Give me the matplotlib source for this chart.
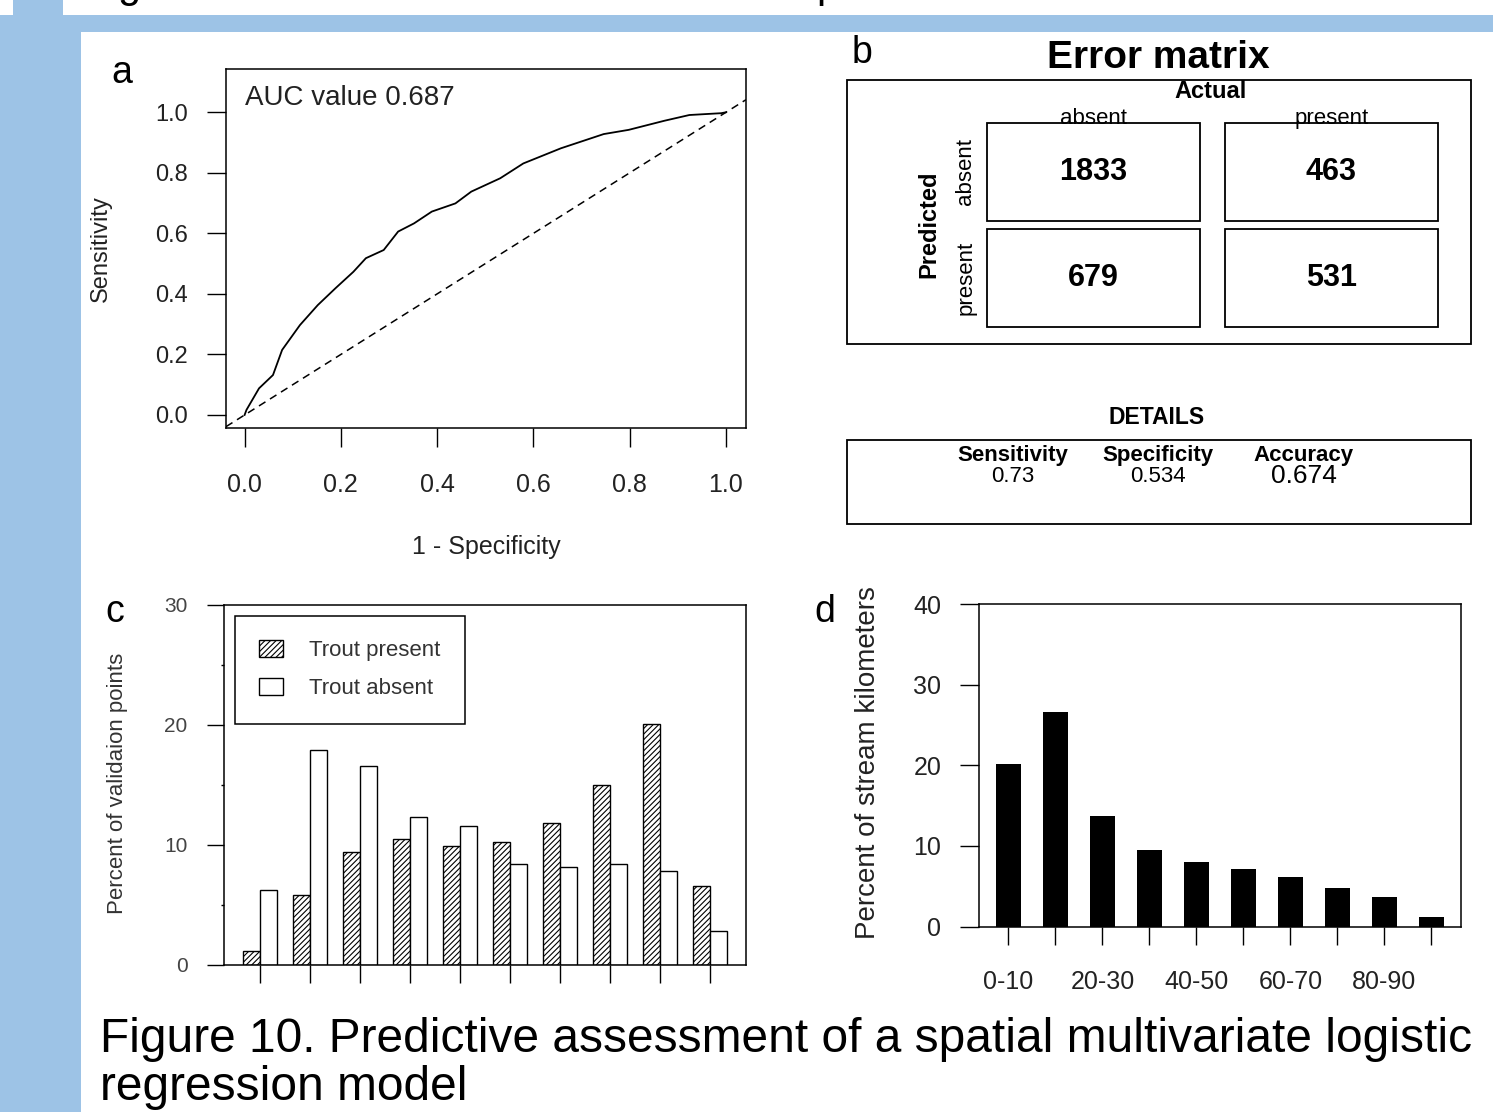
import matplotlib
matplotlib.use("Agg")
import matplotlib.pyplot as plt
from matplotlib.patches import Rectangle

plt.rcParams['font.family'] = ['Liberation Sans', 'DejaVu Sans']
plt.rcParams['hatch.linewidth'] = 0.8

# ---- data ----
# panel a: ROC curve
fpr = [0.0, 0.004, 0.030, 0.059, 0.078, 0.115, 0.152, 0.189, 0.226, 0.252, 0.289, 0.319,
       0.352, 0.389, 0.438, 0.471, 0.531, 0.579, 0.657, 0.746, 0.798, 0.872, 0.924, 0.990, 1.0]
tpr = [0.0, 0.017, 0.088, 0.132, 0.215, 0.297, 0.363, 0.419, 0.473, 0.518, 0.545, 0.606,
       0.633, 0.672, 0.699, 0.738, 0.782, 0.831, 0.881, 0.928, 0.942, 0.972, 0.991, 0.997, 1.0]
auc_value = 0.687

# panel b: error matrix
class_labels = ['absent', 'present']
err_matrix = [[1833, 463],
              [679, 531]]
detail_names = ['Sensitivity', 'Specificity', 'Accuracy']
detail_values = [0.73, 0.534, 0.674]

# panel c: validation points
trout_present = [1.2, 5.8, 9.45, 10.5, 9.9, 10.2, 11.8, 15.0, 20.1, 6.6]
trout_absent = [6.25, 17.9, 16.6, 12.35, 11.6, 8.4, 8.15, 8.4, 7.8, 2.8]

# panel d: stream kilometers
prob_classes = ['0-10', '10-20', '20-30', '30-40', '40-50', '50-60', '60-70', '70-80', '80-90', '90-100']
stream_km = [20.2, 26.6, 13.7, 9.44, 7.95, 7.08, 6.09, 4.76, 3.64, 1.12]

W, H = 1493, 1112
BLUE = '#9DC3E6'

fig = plt.figure(figsize=(W / 100, H / 100), dpi=100, facecolor=BLUE)


def box(x0, y0, x1, y1):
    return [x0 / W, 1 - y1 / H, (x1 - x0) / W, (y1 - y0) / H]


# background layer in pixel coordinates
bg = fig.add_axes([0, 0, 1, 1], zorder=0)
bg.set_xlim(0, W)
bg.set_ylim(H, 0)
bg.axis('off')
for (x, y, w, h) in [(0, 0, 13, 15), (63, 0, W - 63, 15), (80.5, 32, W - 80.5, H - 32)]:
    bg.add_patch(Rectangle((x, y), w, h, facecolor='white', edgecolor='none'))

# cut-off text from the slide above
bg.text(117, -3, 'g', fontsize=30, va='baseline', ha='left')
bg.text(816, -3, 'p', fontsize=30, va='baseline', ha='left')

for lab, (x, y) in zip('abcd', [(122, 73), (862, 53), (115, 612), (825, 612)]):
    bg.text(x, y, lab, fontsize=27, ha='center', va='center')

# ---- panel a ----
ax_a = fig.add_axes(box(226, 69, 746, 428), zorder=2)
ax_a.plot(fpr, tpr, color='black', lw=1.3)
ax_a.axline((0, 0), slope=1, color='black', lw=1.1, linestyle=(0, (5, 3.5)))
ax_a.set_xlim(-0.0386, 1.0416)
ax_a.set_ylim(-0.043, 1.143)
ticks_a = [0.0, 0.2, 0.4, 0.6, 0.8, 1.0]
ax_a.set_xticks(ticks_a, [f'{t:.1f}' for t in ticks_a])
ax_a.set_yticks(ticks_a, [f'{t:.1f}' for t in ticks_a])
ax_a.tick_params(axis='x', direction='out', length=13.5, width=1.0, pad=19, labelsize=18, labelcolor='#222222')
ax_a.tick_params(axis='y', direction='out', length=13.5, width=1.0, pad=14, labelsize=17, labelcolor='#222222')
for s in ax_a.spines.values():
    s.set_linewidth(1.1)
ax_a.text(0.0365, 0.919, f'AUC value {auc_value}', transform=ax_a.transAxes,
          fontsize=20, va='center', ha='left', color='#222222')
ax_a.set_xlabel('1 - Specificity', fontsize=18, color='#222222')
ax_a.xaxis.set_label_coords(0.5, (428 - 546.7) / 359)
ax_a.xaxis.label.set_va('center')
ax_a.set_ylabel('Sensitivity', fontsize=17, color='#222222')
ax_a.yaxis.set_label_coords((101 - 226) / 520, 0.5)
ax_a.yaxis.label.set_va('center')

# ---- panel b: error matrix ----
bg.text(1158, 58, 'Error matrix', fontsize=28, fontweight='bold', ha='center', va='center')
bg.add_patch(Rectangle((847, 80), 624, 264, fill=False, edgecolor='black', lw=1.3))
bg.text(1211, 91, 'Actual', fontsize=17, fontweight='bold', ha='center', va='center')
col_x = [(987, 1200), (1225, 1437.5)]
row_y = [(122.7, 220.7), (229, 326.7)]
for j, lab in enumerate(class_labels):
    cx = (col_x[j][0] + col_x[j][1]) / 2
    bg.text(cx, 124, lab, fontsize=16, ha='center', va='baseline')
bg.text(929, 224, 'Predicted', fontsize=17, fontweight='bold', rotation=90, ha='center', va='center')
for i, lab in enumerate(class_labels):
    cy = (row_y[i][0] + row_y[i][1]) / 2
    bg.text(966, cy, lab, fontsize=16, rotation=90, ha='center', va='center')
for i in range(2):
    for j in range(2):
        x0, x1 = col_x[j]
        y0, y1 = row_y[i]
        bg.add_patch(Rectangle((x0, y0), x1 - x0, y1 - y0, fill=False, edgecolor='black', lw=1.3))
        bg.text((x0 + x1) / 2, (y0 + y1) / 2, str(err_matrix[i][j]), fontsize=22,
                fontweight='bold', ha='center', va='center')

bg.text(1157, 417, 'DETAILS', fontsize=16.5, fontweight='bold', ha='center', va='center')
bg.add_patch(Rectangle((847, 440), 624, 84, fill=False, edgecolor='black', lw=1.3))
for name, val, x, fs in zip(detail_names, detail_values, [1013, 1158, 1304], [16, 16, 19]):
    bg.text(x, 455, name, fontsize=16, fontweight='bold', ha='center', va='center')
    bg.text(x, 476, str(val), fontsize=fs, ha='center', va='center')

# ---- panel c ----
ax_c = fig.add_axes(box(224, 604.7, 746, 965), zorder=2)
centers = [2 + 3 * g for g in range(len(trout_present))]
ax_c.bar([c - 0.5 for c in centers], trout_present, width=1, facecolor='white',
         edgecolor='black', hatch='//////', lw=1.0, label='Trout present')
ax_c.bar([c + 0.5 for c in centers], trout_absent, width=1, facecolor='white',
         edgecolor='black', lw=1.0, label='Trout absent')
ax_c.set_xlim(-0.16, 31.16)
ax_c.set_ylim(0, 30)
ax_c.set_xticks(centers, [''] * len(centers))
ax_c.set_yticks([0, 10, 20, 30])
ax_c.set_yticks([5, 15, 25], minor=True)
ax_c.tick_params(axis='x', direction='out', length=13, width=1.0)
ax_c.tick_params(axis='y', which='major', direction='out', length=12.2, width=1.0, pad=14,
                 labelsize=15, labelcolor='#444444')
ax_c.tick_params(axis='y', which='minor', direction='out', length=2.2, width=1.0)
for s in ax_c.spines.values():
    s.set_linewidth(1.1)
ax_c.set_ylabel('Percent of validaion points', fontsize=16, color='#333333')
ax_c.yaxis.set_label_coords((118 - 224) / 522, 0.505)
ax_c.yaxis.label.set_va('center')
leg = ax_c.legend(loc='upper left', bbox_to_anchor=(0.021, 0.9695), borderaxespad=0,
                  fontsize=16, frameon=True, fancybox=False, edgecolor='black', framealpha=1,
                  handlelength=1.06, handleheight=0.8, handletextpad=1.19, borderpad=1.1,
                  labelspacing=0.75)
leg.get_frame().set_linewidth(1.1)
for t in leg.get_texts():
    t.set_color('#333333')

# ---- panel d ----
ax_d = fig.add_axes(box(979.3, 604, 1461.5, 926.5), zorder=2)
xpos = list(range(len(stream_km)))
ax_d.bar(xpos, stream_km, width=0.536, color='black')
ax_d.set_xlim(-0.619, 9.64)
ax_d.set_ylim(0, 40)
ax_d.set_xticks(xpos, [c if i % 2 == 0 else '' for i, c in enumerate(prob_classes)])
ax_d.set_yticks([0, 10, 20, 30, 40])
ax_d.tick_params(axis='x', direction='out', length=13, width=1.0, pad=18, labelsize=18, labelcolor='#222222')
ax_d.tick_params(axis='y', direction='out', length=13.7, width=1.0, pad=13.7, labelsize=18, labelcolor='#222222')
for s in ax_d.spines.values():
    s.set_linewidth(1.1)
ax_d.set_ylabel('Percent of stream kilometers', fontsize=20, color='#222222')
ax_d.yaxis.set_label_coords((868 - 979.3) / 482.2, 0.507)
ax_d.yaxis.label.set_va('center')

# ---- caption ----
bg.text(100, 1052, 'Figure 10. Predictive assessment of a spatial multivariate logistic',
        fontsize=34.5, ha='left', va='baseline')
bg.text(100, 1100, 'regression model', fontsize=34.5, ha='left', va='baseline')

fig.savefig('out.png', dpi=100, facecolor=BLUE)
